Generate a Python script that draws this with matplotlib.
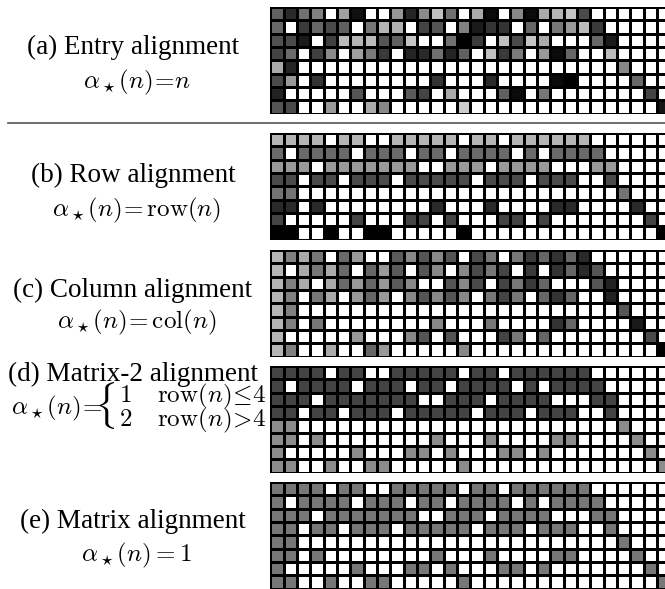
import numpy as np
import matplotlib
matplotlib.use("Agg")
import matplotlib.pyplot as plt

plt.rcParams['font.family'] = ['Liberation Serif', 'DejaVu Serif']
plt.rcParams['mathtext.fontset'] = 'cm'

W = 255  # empty cell (white)

# entry-wise gray level of each nonzero (0 = black, 255 = empty)
entry_gray = [
    [96, 42, 112, 128, W, 160, 16, W, W, 149, 37, 138, 192, 112, W, 170, 10, W, 136, 10, 170, 181, 197, 74, W, W, W, W, W, W],
    [104, W, 58, 102, 74, 95, W, 119, 181, 176, W, 68, 85, W, 128, 26, 51, 51, W, 102, W, 119, 153, 187, 58, W, W, W, W, W],
    [80, 74, 26, W, 64, 187, 181, 187, 85, 96, 197, W, W, 112, 0, 58, W, 192, 74, 197, 170, W, W, W, 102, 26, W, W, W, W],
    [68, 106, W, 64, 138, W, 160, 122, 58, W, 37, 42, 112, 37, 96, W, 192, 58, 122, W, 153, 10, 102, W, W, 187, W, W, W, W],
    [170, 37, W, W, W, W, W, W, W, W, W, W, W, W, W, W, W, W, W, W, W, W, W, W, W, W, 136, W, W, W],
    [74, 153, W, 51, W, W, W, W, W, W, W, W, 51, W, W, W, 42, W, W, W, W, 10, 0, W, W, W, W, 102, W, W],
    [34, W, W, W, W, W, 85, W, W, W, 90, 68, W, 170, W, W, W, 96, 10, W, 119, W, W, W, W, W, W, W, 68, W],
    [85, 74, W, W, 153, W, W, 170, 136, W, W, W, W, W, 204, W, W, W, W, W, W, W, W, W, W, W, W, W, W, 21],
]

# one gray per row (row alignment)
row_gray = [181, 106, 153, 74, 115, 42, 68, 0]

# one gray per column (column alignment)
col_gray = [181, 128, 170, 119, 170, 106, 153, 102, 153, 90, 136, 85, 136, 85, 136,
            74, 119, 68, 119, 58, 102, 51, 102, 42, 85, 34, 85, 26, 74, 0]

# matrix-2 alignment: rows 1-4 / rows 5-8
matrix2_gray = [68, 140]

# matrix alignment: a single gray
matrix_gray = 119

titles = ["(a) Entry alignment", "(b) Row alignment", "(c) Column alignment",
          "(d) Matrix-2 alignment", "(e) Matrix alignment"]
formulas = [r"$\alpha_\star(n)\!=\!n$", r"$\alpha_\star(n)\!=\mathrm{row}(n)$",
            r"$\alpha_\star(n)\!=\mathrm{col}(n)$", None, r"$\alpha_\star(n)=1$"]
title_y = [47, 175, 290, 374, 521]
formula_y = [82, 210, 322, None, 555]

E = np.array(entry_gray, dtype=float)
mask = E < W
nr, nc = E.shape

grids = [
    E,
    np.where(mask, np.array(row_gray)[:, None], W),
    np.where(mask, np.array(col_gray)[None, :], W),
    np.where(mask, np.where(np.arange(nr)[:, None] < 4, matrix2_gray[0], matrix2_gray[1]), W),
    np.where(mask, matrix_gray, W),
]

fig = plt.figure(figsize=(6.65, 5.89), dpi=100)
FW, FH = 665.0, 589.0
cell = 13.33
tops = [7, 133, 250, 366, 482]
x0 = 270.3

for i, g in enumerate(grids):
    top = tops[i]
    ax = fig.add_axes([x0 / FW, 1 - (top + nr * cell) / FH, nc * cell / FW, nr * cell / FH])
    ax.pcolormesh(g, cmap='gray', vmin=0, vmax=255, edgecolors='black', linewidth=0.8)
    ax.set_xlim(0, nc)
    ax.set_ylim(nr, 0)
    ax.set_axis_off()

    fig.text(133 / FW, 1 - title_y[i] / FH, titles[i], ha='center', va='center', fontsize=19.5)
    if formulas[i] is not None:
        fig.text(137 / FW, 1 - formula_y[i] / FH, formulas[i], ha='center', va='center', fontsize=18)

# cases formula for panel (d)
fig.text(11 / FW, 1 - 408 / FH, r"$\alpha_\star(n)\!=$", ha='left', va='center', fontsize=18)
fig.text(94 / FW, 1 - 406 / FH, r"$\{$", ha='left', va='center', fontsize=29)
fig.text(119 / FW, 1 - 396 / FH, r"$1$", ha='left', va='center', fontsize=18)
fig.text(157 / FW, 1 - 396 / FH, r"$\mathrm{row}(n)\!\leq\!4$", ha='left', va='center', fontsize=18)
fig.text(119 / FW, 1 - 420 / FH, r"$2$", ha='left', va='center', fontsize=18)
fig.text(157 / FW, 1 - 420 / FH, r"$\mathrm{row}(n)\!>\!4$", ha='left', va='center', fontsize=18)

# separator under panel (a)
fig.add_artist(plt.Line2D([8 / FW, 1.0], [1 - 123 / FH, 1 - 123 / FH], color='#555555', linewidth=1.2))

fig.savefig("out.png", dpi=100)
